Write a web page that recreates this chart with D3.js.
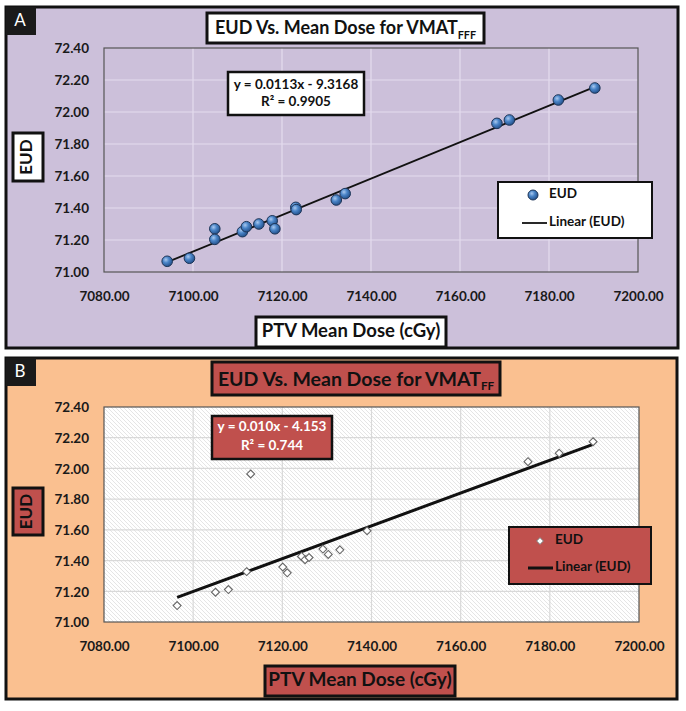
<!DOCTYPE html>
<html>
<head>
<meta charset="utf-8">
<script src="https://cdn.jsdelivr.net/npm/d3@7"></script>
<style>
  html, body { margin: 0; padding: 0; background: #ffffff; }
  svg { display: block; }
  text { font-family: Lato, "Open Sans", "Liberation Sans", sans-serif; }
</style>
</head>
<body>
<svg id="chart" width="686" height="711"></svg>
<script>
// ---------------- DATA ----------------
const xTickValues = [7080, 7100, 7120, 7140, 7160, 7180, 7200];
const yTickValues = [71.0, 71.2, 71.4, 71.6, 71.8, 72.0, 72.2, 72.4];

// Panel A: VMAT FFF
const doseA = [7094.2, 7099.2, 7104.9, 7104.9, 7111.1, 7112.0, 7114.8, 7117.8, 7118.4,
               7123.1, 7123.2, 7132.2, 7134.2, 7168.3, 7171.1, 7182.1, 7190.3];
const eudA  = [71.067, 71.086, 71.270, 71.204, 71.252, 71.283, 71.300, 71.320, 71.270,
               71.404, 71.390, 71.450, 71.490, 71.929, 71.950, 72.075, 72.150];
const titleA = "EUD Vs. Mean Dose for VMAT";
const titleSubA = "FFF";
const equationA = ["y = 0.0113x - 9.3168", "R² = 0.9905"];

// Panel B: VMAT FF
const doseB = [7096.4, 7105.0, 7107.9, 7112.0, 7112.9, 7120.1, 7121.1, 7124.3, 7125.1,
               7126.0, 7129.1, 7130.3, 7132.9, 7139.0, 7175.1, 7182.1, 7189.7];
const eudB  = [71.107, 71.194, 71.211, 71.328, 71.964, 71.358, 71.320, 71.427, 71.406,
               71.420, 71.475, 71.440, 71.470, 71.594, 72.044, 72.099, 72.174];
const titleB = "EUD Vs. Mean Dose for VMAT";
const titleSubB = "FF";
const equationB = ["y = 0.010x - 4.153", "R² = 0.744"];

const xAxisTitle = "PTV Mean Dose (cGy)";
const yAxisTitle = "EUD";
const legendLabels = ["EUD", "Linear (EUD)"];
const panelLetters = ["A", "B"];

// ---------------- HELPERS ----------------
const svg = d3.select("#chart");
const defs = svg.append("defs");

const grad = defs.append("radialGradient").attr("id", "ballBlue")
  .attr("cx", "38%").attr("cy", "35%").attr("r", "65%");
grad.append("stop").attr("offset", "0%").attr("stop-color", "#a9c8ee");
grad.append("stop").attr("offset", "45%").attr("stop-color", "#4a85c8");
grad.append("stop").attr("offset", "100%").attr("stop-color", "#24518c");

const hatch = defs.append("pattern").attr("id", "hatch")
  .attr("width", 4).attr("height", 4).attr("patternUnits", "userSpaceOnUse");
hatch.append("rect").attr("width", 4).attr("height", 4).attr("fill", "#ffffff");
hatch.append("path").attr("d", "M-1,-1 L5,5 M-1,3 L1,5 M3,-1 L5,1")
  .attr("stroke", "#dedede").attr("stroke-width", 0.8);

function linreg(xs, ys) {
  const mx = d3.mean(xs), my = d3.mean(ys);
  let sxy = 0, sxx = 0;
  xs.forEach((x, i) => { sxy += (x - mx) * (ys[i] - my); sxx += (x - mx) ** 2; });
  const b = sxy / sxx;
  return { slope: b, intercept: my - b * mx };
}

function box(g, x, y, w, h, fill, sw) {
  g.append("rect").attr("x", x).attr("y", y).attr("width", w).attr("height", h)
    .attr("fill", fill).attr("stroke", "#111").attr("stroke-width", sw);
}

function drawPanel(cfg) {
  const g = svg.append("g");
  // frame
  g.append("rect").attr("x", cfg.frame[0]).attr("y", cfg.frame[1])
    .attr("width", cfg.frame[2]).attr("height", cfg.frame[3])
    .attr("fill", cfg.bg).attr("stroke", "#111").attr("stroke-width", 3);
  // letter
  g.append("rect").attr("x", cfg.frame[0]).attr("y", cfg.frame[1])
    .attr("width", 30).attr("height", 28).attr("fill", "#1a1a1a");
  g.append("text").attr("x", cfg.frame[0] + 14).attr("y", cfg.frame[1] + 15)
    .attr("text-anchor", "middle").attr("dominant-baseline", "middle")
    .attr("fill", "#fff").attr("font-size", 17).text(cfg.letter);

  const x = d3.scaleLinear().domain([7080, 7200]).range([cfg.plot.x0, cfg.plot.x1]);
  const y = d3.scaleLinear().domain([71.0, 72.4]).range([cfg.plot.y1, cfg.plot.y0]);

  // plot area
  g.append("rect").attr("x", cfg.plot.x0).attr("y", cfg.plot.y0)
    .attr("width", cfg.plot.x1 - cfg.plot.x0).attr("height", cfg.plot.y1 - cfg.plot.y0)
    .attr("fill", cfg.plotFill);
  // grid
  g.append("g").selectAll("line").data(yTickValues.slice(1, -1)).join("line")
    .attr("x1", cfg.plot.x0).attr("x2", cfg.plot.x1)
    .attr("y1", d => y(d)).attr("y2", d => y(d))
    .attr("stroke", cfg.grid).attr("stroke-width", 1.2);
  g.append("g").selectAll("line").data(xTickValues.slice(1, -1)).join("line")
    .attr("y1", cfg.plot.y0).attr("y2", cfg.plot.y1)
    .attr("x1", d => x(d)).attr("x2", d => x(d))
    .attr("stroke", cfg.grid).attr("stroke-width", 1.2);
  g.append("rect").attr("x", cfg.plot.x0).attr("y", cfg.plot.y0)
    .attr("width", cfg.plot.x1 - cfg.plot.x0).attr("height", cfg.plot.y1 - cfg.plot.y0)
    .attr("fill", "none").attr("stroke", "#555").attr("stroke-width", 1.2);

  // axes (labels only, via d3 axes)
  const xAxis = d3.axisBottom(x).tickValues(xTickValues).tickFormat(d3.format(".2f")).tickSize(0);
  const xg = g.append("g").attr("transform", `translate(0,${cfg.xLabelY})`).call(xAxis);
  xg.select(".domain").remove();
  xg.selectAll("text").attr("dy", "0.35em").attr("y", 0)
    .attr("font-family", "Lato, sans-serif").attr("font-weight", "bold")
    .attr("font-size", 13.5).attr("fill", "#1a1a1a");

  const yAxis = d3.axisLeft(y).tickValues(yTickValues).tickFormat(d3.format(".2f")).tickSize(0);
  const yg = g.append("g").attr("transform", `translate(${cfg.yLabelX},0)`).call(yAxis);
  yg.select(".domain").remove();
  yg.selectAll("text").attr("x", 0).attr("dy", "0.35em")
    .attr("font-family", "Lato, sans-serif").attr("font-weight", "bold")
    .attr("font-size", 13.5).attr("fill", "#1a1a1a");

  // trend line
  const reg = linreg(cfg.xs, cfg.ys);
  const xmin = d3.min(cfg.xs), xmax = d3.max(cfg.xs);
  g.append("line")
    .attr("x1", x(xmin)).attr("y1", y(reg.intercept + reg.slope * xmin))
    .attr("x2", x(xmax)).attr("y2", y(reg.intercept + reg.slope * xmax))
    .attr("stroke", "#111").attr("stroke-width", cfg.lineWidth);

  // points
  const pts = cfg.xs.map((d, i) => [d, cfg.ys[i]]);
  if (cfg.marker === "circle") {
    g.append("g").selectAll("circle").data(pts).join("circle")
      .attr("cx", d => x(d[0])).attr("cy", d => y(d[1])).attr("r", 5.3)
      .attr("fill", "url(#ballBlue)").attr("stroke", "#1d3557").attr("stroke-width", 1);
  } else {
    g.append("g").selectAll("path").data(pts).join("path")
      .attr("d", d3.symbol(d3.symbolDiamond2, 40))
      .attr("transform", d => `translate(${x(d[0])},${y(d[1])})`)
      .attr("fill", "#fff").attr("stroke", "#666").attr("stroke-width", 1.1);
  }

  // title
  const t = cfg.title;
  box(g, t.box[0], t.box[1], t.box[2], t.box[3], cfg.boxFill, 3);
  const tt = g.append("text").attr("x", t.box[0] + t.box[2] / 2).attr("y", t.box[1] + t.box[3] / 2 + t.size * 0.36)
    .attr("text-anchor", "middle").attr("font-weight", "bold").attr("font-size", t.size).attr("fill", "#111");
  tt.append("tspan").text(cfg.titleText);
  tt.append("tspan").attr("font-size", t.size * 0.6).attr("dy", t.size * 0.25).text(cfg.titleSub);

  // equation box
  const e = cfg.eq;
  box(g, e.box[0], e.box[1], e.box[2], e.box[3], cfg.boxFill, 2.5);
  cfg.eqText.forEach((s, i) => {
    g.append("text").attr("x", e.box[0] + e.box[2] / 2).attr("y", e.lines[i])
      .attr("text-anchor", "middle").attr("dominant-baseline", "middle")
      .attr("font-weight", "bold").attr("font-size", e.size).attr("fill", cfg.eqColor).text(s);
  });

  // legend
  const l = cfg.legend;
  box(g, l.box[0], l.box[1], l.box[2], l.box[3], cfg.boxFill, 2);
  if (cfg.marker === "circle") {
    g.append("circle").attr("cx", l.marker[0]).attr("cy", l.marker[1]).attr("r", 5)
      .attr("fill", "url(#ballBlue)").attr("stroke", "#1d3557").attr("stroke-width", 1);
  } else {
    g.append("path").attr("d", d3.symbol(d3.symbolDiamond2, 30))
      .attr("transform", `translate(${l.marker[0]},${l.marker[1]})`)
      .attr("fill", "#fff").attr("stroke", "#777").attr("stroke-width", 1);
  }
  g.append("text").attr("x", l.textX).attr("y", l.marker[1]).attr("dominant-baseline", "middle")
    .attr("font-weight", "bold").attr("font-size", l.size).attr("fill", "#111").text(legendLabels[0]);
  g.append("line").attr("x1", l.line[0]).attr("x2", l.line[1]).attr("y1", l.line[2]).attr("y2", l.line[2])
    .attr("stroke", "#111").attr("stroke-width", cfg.lineWidth);
  g.append("text").attr("x", l.textX).attr("y", l.line[2]).attr("dominant-baseline", "middle")
    .attr("font-weight", "bold").attr("font-size", l.size).attr("fill", "#111").text(legendLabels[1]);

  // x axis title
  const xa = cfg.xTitle;
  box(g, xa.box[0], xa.box[1], xa.box[2], xa.box[3], cfg.boxFill, 3);
  g.append("text").attr("x", xa.box[0] + xa.box[2] / 2).attr("y", xa.box[1] + xa.box[3] / 2)
    .attr("text-anchor", "middle").attr("dominant-baseline", "middle")
    .attr("font-weight", "bold").attr("font-size", xa.size).attr("fill", "#111").text(xAxisTitle);

  // y axis title
  const ya = cfg.yTitle;
  box(g, ya.box[0], ya.box[1], ya.box[2], ya.box[3], cfg.boxFill, 3);
  const cx = ya.box[0] + ya.box[2] / 2, cy = ya.box[1] + ya.box[3] / 2;
  g.append("text").attr("transform", `translate(${cx},${cy}) rotate(-90)`)
    .attr("text-anchor", "middle").attr("dominant-baseline", "middle")
    .attr("font-weight", "bold").attr("font-size", ya.size).attr("fill", "#111").text(yAxisTitle);
}

drawPanel({
  letter: panelLetters[0],
  frame: [6, 7, 672, 341],
  bg: "#ccc0da", plotFill: "#ccc0da", grid: "#e4dcee",
  plot: { x0: 104, x1: 638, y0: 48, y1: 272 },
  xLabelY: 296, yLabelX: 89,
  xs: doseA, ys: eudA, marker: "circle", lineWidth: 1.8,
  boxFill: "#ffffff", eqColor: "#111",
  titleText: titleA, titleSub: titleSubA,
  title: { box: [207, 13, 277, 30], size: 18 },
  eqText: equationA,
  eq: { box: [228, 72, 136, 43], lines: [86, 103], size: 13.5 },
  legend: { box: [498, 182, 154, 56], marker: [533, 195], textX: 549, line: [522, 547, 223], size: 13.5 },
  xTitle: { box: [256, 317, 190, 30], size: 18.5 },
  yTitle: { box: [13, 133, 30, 48], size: 17 }
});

drawPanel({
  letter: panelLetters[1],
  frame: [6, 358, 671, 341],
  bg: "#fac090", plotFill: "url(#hatch)", grid: "#d9d9d9",
  plot: { x0: 104, x1: 639, y0: 407, y1: 622 },
  xLabelY: 646, yLabelX: 89,
  xs: doseB, ys: eudB, marker: "diamond", lineWidth: 3,
  boxFill: "#c0504d", eqColor: "#ffffff",
  titleText: titleB, titleSub: titleSubB,
  title: { box: [212, 362, 288, 33], size: 19.5 },
  eqText: equationB,
  eq: { box: [212, 416, 120, 43], lines: [428, 447], size: 13.5 },
  legend: { box: [509, 527, 142, 57], marker: [540, 541], textX: 555, line: [528, 553, 568], size: 13.5 },
  xTitle: { box: [265, 666, 190, 30], size: 19 },
  yTitle: { box: [13, 488, 30, 47], size: 17 }
});
</script>
</body>
</html>
